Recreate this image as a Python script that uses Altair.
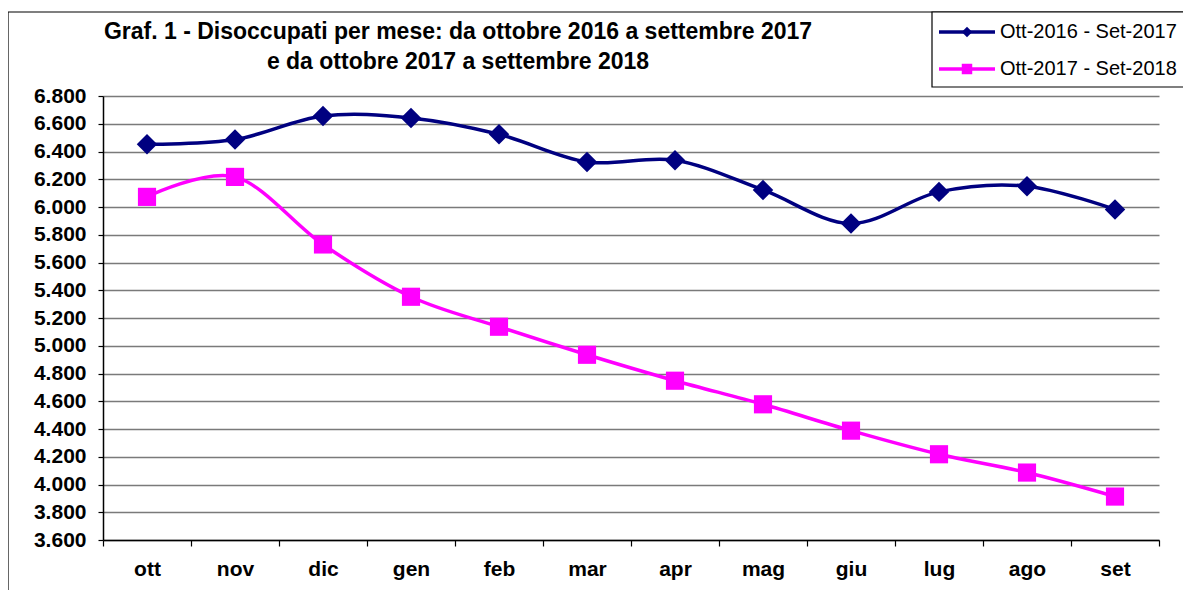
import altair as alt
import pandas as pd

mesi = ["ott", "nov", "dic", "gen", "feb", "mar", "apr", "mag", "giu", "lug", "ago", "set"]
serie = ["Ott-2016 - Set-2017", "Ott-2017 - Set-2018"]
valori_2016_2017 = [6452, 6486, 6656, 6642, 6524, 6325, 6337, 6123, 5881, 6109, 6150, 5982]
valori_2017_2018 = [6073, 6217, 5730, 5353, 5137, 4935, 4748, 4578, 4388, 4218, 4086, 3913]
y_ticks = list(range(3600, 6801, 200))
titolo = ["Graf. 1 - Disoccupati per mese:  da ottobre 2016 a settembre 2017",
          "e da ottobre 2017 a settembre 2018"]

colori = ["#000080", "#FF00FF"]
forme = ["diamond", "square"]

rows = []
for s, vals in zip(serie, [valori_2016_2017, valori_2017_2018]):
    for m, v in zip(mesi, vals):
        rows.append({"mese": m, "valore": v, "serie": s})
df = pd.DataFrame(rows)
df_leg = pd.DataFrame({"serie": serie})
df_one = pd.DataFrame({"k": [0]})

W, H = 1056, 444

x_enc = alt.X("mese:O", sort=mesi,
              scale=alt.Scale(type="band", paddingInner=0, paddingOuter=0),
              bandPosition=0.5,
              axis=alt.Axis(title=None, labelAngle=0, tickBand="extent", grid=False, orient="bottom",
                            labelFontSize=21, labelFontWeight="bold", labelFont="Liberation Sans",
                            labelColor="black", labelPadding=12, tickSize=6, tickColor="black",
                            domainColor="black", domainWidth=1.5, tickWidth=1.2))
y_enc = alt.Y("valore:Q",
              scale=alt.Scale(domain=[3600, 6800], nice=False, zero=False),
              axis=alt.Axis(title=None, values=y_ticks, orient="left",
                            labelExpr="replace(format(datum.value, ',.0f'), ',', '.')",
                            labelFontSize=21, labelFontWeight="bold", labelFont="Liberation Sans",
                            labelColor="black", labelPadding=12, tickSize=5, tickColor="black",
                            domainColor="black", domainWidth=1.5, tickWidth=1.2,
                            grid=True, gridColor="#7a7a7a", gridWidth=1.7))
y_enc_noaxis = alt.Y("valore:Q", scale=alt.Scale(domain=[3600, 6800], nice=False, zero=False),
                     axis=None)
color_enc = alt.Color("serie:N", scale=alt.Scale(domain=serie, range=colori), legend=None)
shape_enc = alt.Shape("serie:N", scale=alt.Scale(domain=serie, range=forme), legend=None)

border = alt.Chart(df_one).mark_rect(fillOpacity=0, stroke="black", strokeWidth=1.2).encode(
    x=alt.value(-95), x2=alt.value(1200), y=alt.value(-84), y2=alt.value(600))

base = alt.Chart(df)
lines = base.mark_line(strokeWidth=3.5, interpolate="cardinal").encode(
    x=x_enc, y=y_enc, color=color_enc, detail="serie:N")
points = base.mark_point(filled=True, opacity=1, strokeWidth=0).encode(
    x=x_enc, y=y_enc_noaxis, color=color_enc, shape=shape_enc,
    size=alt.Size("serie:N", scale=alt.Scale(domain=serie, range=[420, 330]), legend=None))

leg_y = alt.Y("serie:N", scale=alt.Scale(type="point", domain=serie, range=[-64, -27], padding=0),
              axis=None)
leg_box = alt.Chart(df_one).mark_rect(fill="white", stroke="black", strokeWidth=1.2).encode(
    x=alt.value(829), x2=alt.value(1200), y=alt.value(-84), y2=alt.value(-9))
leg_line = alt.Chart(df_leg).mark_rule(strokeWidth=3.5).encode(
    x=alt.value(836), x2=alt.value(892), y=leg_y, color=color_enc)
leg_pt = alt.Chart(df_leg).mark_point(filled=True, opacity=1, strokeWidth=0, size=110).encode(
    x=alt.value(864), y=leg_y, color=color_enc, shape=shape_enc)
leg_txt = alt.Chart(df_leg).mark_text(align="left", baseline="middle", fontSize=20,
                                      font="Liberation Sans", color="black").encode(
    x=alt.value(897), y=leg_y, text="serie:N")

chart = alt.layer(border, lines, points, leg_box, leg_line, leg_pt, leg_txt).resolve_scale(
    y="independent"
).properties(
    width=W, height=H,
    title=alt.TitleParams(text=titolo, anchor="middle", frame="group", dx=-173,
                          fontSize=23, fontWeight="bold", font="Liberation Sans",
                          color="black", lineHeight=30, offset=-63),
    autosize=alt.AutoSizeParams(type="none"),
    padding={"left": 95, "top": 88, "right": 24, "bottom": 50},
).configure_view(stroke=None)

chart.save("out.html", embed_options={"renderer": "svg", "actions": False})
